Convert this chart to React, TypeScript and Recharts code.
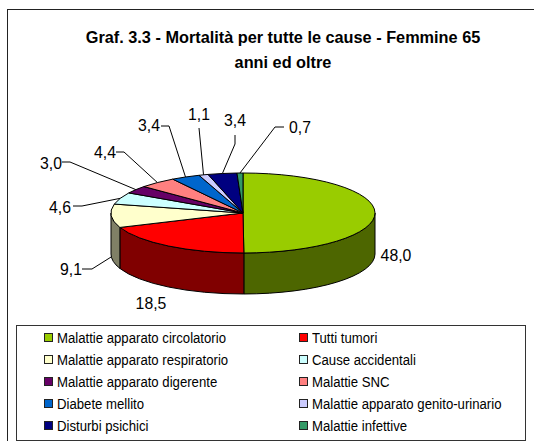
import { PieChart, Pie, Legend } from "recharts";

const causes = [
  "Malattie apparato circolatorio",
  "Tutti tumori",
  "Malattie apparato respiratorio",
  "Cause accidentali",
  "Malattie apparato digerente",
  "Malattie SNC",
  "Diabete mellito",
  "Malattie apparato genito-urinario",
  "Disturbi psichici",
  "Malattie infettive",
];
const rates = [48.0, 18.5, 9.1, 4.6, 3.0, 4.4, 3.4, 1.1, 3.4, 0.7];
const topColors = ["#99cc00", "#ff0000", "#ffffcc", "#ccffff", "#660066", "#ff8080", "#0066cc", "#ccccff", "#000080", "#339966"];
const sideColors = ["#4d6600", "#800000", "#808066", "#668080", "#330033", "#804040", "#003366", "#666680", "#000040", "#1a4d33"];
const titleLines = ["Graf. 3.3 - Mortalità per tutte le cause - Femmine 65", "anni ed oltre"];

const chartData = causes.map((name, i) => ({
  name,
  value: rates[i],
  fill: topColors[i],
  side: sideColors[i],
}));

// label text centre, then the leader from the text end through its elbow
const labelSpots: any[] = [
  { x: 396, y: 255 },
  { x: 151, y: 303 },
  { x: 71, y: 269, line: [[82, 269], [92, 269]], drop: 41 },
  { x: 60, y: 207, line: [[73, 206], [82, 206]] },
  { x: 51, y: 163, line: [[62, 162], [70, 162]] },
  { x: 105, y: 152, line: [[116, 152], [124, 152]] },
  { x: 149, y: 125, line: [[161, 126], [169, 126]] },
  { x: 199, y: 114, line: [[199, 128]] },
  { x: 235, y: 120, line: [[235, 135], [235, 144]] },
  { x: 300, y: 127, line: [[284, 127], [275, 127]] },
];

const CX = 243;
const CY = 213;
const RX = 132;
const SQUASH = 0.303;
const DEPTH = 41;
const rad = (a: number) => (a * Math.PI) / 180;

const pt = (cx: number, cy: number, rx: number, a: number) => [
  cx + rx * Math.cos(rad(a)),
  cy - rx * SQUASH * Math.sin(rad(a)),
];

const TopSlice = (props: any) => {
  const { cx, cy, outerRadius: rx, startAngle, endAngle, fill } = props;
  const a1 = Math.max(startAngle, endAngle);
  const a2 = Math.min(startAngle, endAngle);
  const [x1, y1] = pt(cx, cy, rx, a1);
  const [x2, y2] = pt(cx, cy, rx, a2);
  const large = a1 - a2 > 180 ? 1 : 0;
  const d = `M${cx},${cy}L${x1},${y1}A${rx},${rx * SQUASH} 0 ${large} 1 ${x2},${y2}Z`;
  return <path d={d} fill={fill} stroke="#000" strokeWidth={1} />;
};

const SideSlice = (props: any) => {
  const { cx, cy, outerRadius: rx, startAngle, endAngle, payload, side } = props;
  // only the front half of the rim can be seen
  const hi = Math.min(Math.max(startAngle, endAngle), 0);
  const lo = Math.max(Math.min(startAngle, endAngle), -180);
  if (hi <= lo) return null;
  const [x1, y1] = pt(cx, cy, rx, hi);
  const [x2, y2] = pt(cx, cy, rx, lo);
  const ry = rx * SQUASH;
  const d = `M${x1},${y1}A${rx},${ry} 0 0 1 ${x2},${y2}L${x2},${y2 + DEPTH}A${rx},${ry} 0 0 0 ${x1},${y1 + DEPTH}Z`;
  return <path d={d} fill={side ?? payload?.side} stroke="#000" strokeWidth={1} />;
};

const SliceLabel = (props: any) => {
  const { cx, cy, outerRadius: rx, midAngle, index } = props;
  const spot = labelSpots[index];
  const [sx, sy] = pt(cx, cy, rx, midAngle);
  return (
    <g>
      {spot.line && (
        <polyline
          points={[...spot.line, [sx, sy + (spot.drop ?? 0)]].map((p: number[]) => p.join(",")).join(" ")}
          fill="none"
          stroke="#000"
          strokeWidth={1}
        />
      )}
      <text
        transform={`translate(${spot.x},${spot.y}) scale(0.93,1)`}
        textAnchor="middle"
        dominantBaseline="central"
        fontFamily="Liberation Sans"
        fontSize={17}
        fill="#000"
      >
        {rates[index].toFixed(1).replace(".", ",")}
      </text>
    </g>
  );
};

// both pies report their sectors, the first ten are enough
const LegendBox = ({ payload }: any) => (
  <div
    style={{
      boxSizing: "border-box",
      width: 510,
      height: 116,
      border: "1px solid #333",
      background: "#fff",
      display: "grid",
      gridTemplateColumns: "255px 255px",
      gridAutoRows: "22px",
      paddingTop: 0.5,
      fontFamily: "Liberation Sans",
      fontSize: 14,
      color: "#000",
    }}
  >
    {(payload ?? []).slice(0, causes.length).map((item: any) => (
      <div key={item.value} style={{ display: "flex", alignItems: "center", paddingLeft: 27, whiteSpace: "nowrap" }}>
        <span
          style={{
            boxSizing: "border-box",
            flex: "none",
            width: 9,
            height: 9,
            marginRight: 4,
            border: "1px solid #222",
            background: item.color,
          }}
        />
        <span style={{ display: "inline-block", transform: "scaleX(0.94)", transformOrigin: "left center" }}>{item.value}</span>
      </div>
    ))}
  </div>
);

export default function App() {
  return (
    <div style={{ position: "absolute", left: 0, top: 0, width: 534, height: 441, overflow: "hidden", background: "#fff" }}>
      <div
        style={{
          position: "absolute",
          left: 7,
          top: 9,
          width: 540,
          height: 440,
          border: "1px solid #222",
          boxSizing: "border-box",
        }}
      />
      <PieChart width={534} height={441} margin={{ top: 0, right: 0, bottom: 0, left: 0 }}>
        {titleLines.map((line, i) => (
          <text
            key={line}
            x={283}
            y={37 + i * 25}
            textAnchor="middle"
            dominantBaseline="central"
            fontFamily="Liberation Sans"
            fontWeight="bold"
            fontSize={16.3}
            fill="#000"
          >
            {line}
          </text>
        ))}
        <Pie
          data={chartData}
          dataKey="value"
          nameKey="name"
          cx={CX}
          cy={CY}
          outerRadius={RX}
          startAngle={90}
          endAngle={-270}
          legendType="none"
          isAnimationActive={false}
          shape={SideSlice}
        />
        <Pie
          data={chartData}
          dataKey="value"
          nameKey="name"
          cx={CX}
          cy={CY}
          outerRadius={RX}
          startAngle={90}
          endAngle={-270}
          isAnimationActive={false}
          shape={TopSlice}
          label={SliceLabel}
          labelLine={false}
        />
        <Legend
          content={<LegendBox />}
          itemSorter={null}
          wrapperStyle={{ position: "absolute", left: 16, top: 325, width: 510, height: 116, bottom: "auto", right: "auto" }}
        />
      </PieChart>
    </div>
  );
}
